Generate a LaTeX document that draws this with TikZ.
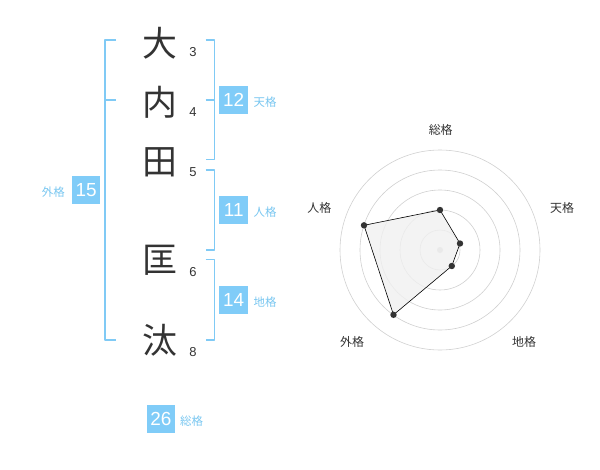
\documentclass[tikz,border=0pt]{standalone}
\usepackage{fontspec}
\setmainfont{Liberation Sans}
\newfontfamily\cjk{Noto Sans CJK JP}
\definecolor{skyline}{RGB}{128,202,245}
\definecolor{skybox}{RGB}{128,204,248}
\definecolor{skytext}{RGB}{120,198,240}
\definecolor{inkgray}{RGB}{51,51,51}
\definecolor{ringgray}{RGB}{208,208,208}
\definecolor{areagray}{RGB}{240,240,240}
\begin{document}
\begin{tikzpicture}[line join=bevel,
  kanji/.style={inner sep=0pt,text=inkgray,font=\cjk\fontsize{35}{35}\selectfont},
  strokenum/.style={inner sep=0pt,text=inkgray,font=\fontsize{13}{13}\selectfont},
  gradebox/.style={fill=skybox,text=white,minimum size=28.5bp,inner sep=0pt,font=\fontsize{19}{19}\selectfont},
  gradelabel/.style={inner sep=0pt,text=skytext,font=\cjk\fontsize{11.5}{11.5}\selectfont},
  axislabel/.style={inner sep=0pt,text=inkgray,font=\cjk\fontsize{12}{12}\selectfont},
  bracket/.style={skyline,line width=1.6bp},
]
\useasboundingbox (0bp,0bp) rectangle (600bp,-470bp);
%%
\node (kanji_0) at (160bp,-43bp) [kanji] {大};
  \node (kanji_1) at (160bp,-102bp) [kanji] {内};
  \node (kanji_2) at (160bp,-162bp) [kanji] {田};
  \node (kanji_3) at (160bp,-260bp) [kanji] {匡};
  \node (kanji_4) at (160bp,-340bp) [kanji] {汰};
%
\node (num_0) at (193bp,-52.5bp) [strokenum] {3};
  \node (num_1) at (193bp,-112.5bp) [strokenum] {4};
  \node (num_2) at (193bp,-172.5bp) [strokenum] {5};
  \node (num_3) at (193bp,-272.5bp) [strokenum] {6};
  \node (num_4) at (193bp,-352.5bp) [strokenum] {8};
%
\draw [bracket] (205.7bp,-40bp) -- (214.3bp,-40bp) -- (214.3bp,-159.3bp) -- (205.7bp,-159.3bp);
  \draw [bracket] (205.7bp,-100bp) -- (214.3bp,-100bp);
  \draw [bracket] (205.7bp,-170bp) -- (214.3bp,-170bp) -- (214.3bp,-250bp) -- (205.7bp,-250bp);
  \draw [bracket] (205.7bp,-259.3bp) -- (214.3bp,-259.3bp) -- (214.3bp,-340bp) -- (205.7bp,-340bp);
  \draw [bracket] (116bp,-40bp) -- (105bp,-40bp) -- (105bp,-340bp) -- (116bp,-340bp);
  \draw [bracket] (105bp,-100bp) -- (116bp,-100bp);
%
\node (box_ten) at (233.7bp,-100.2bp) [gradebox] {12};
  \node (label_ten) at (265bp,-102bp) [gradelabel] {天格};
  \node (box_jin) at (233.7bp,-210.2bp) [gradebox] {11};
  \node (label_jin) at (265bp,-212bp) [gradelabel] {人格};
  \node (box_chi) at (233.7bp,-300.2bp) [gradebox] {14};
  \node (label_chi) at (265bp,-302bp) [gradelabel] {地格};
  \node (box_gai) at (86.2bp,-190.2bp) [gradebox] {15};
  \node (label_gai) at (53.3bp,-192.5bp) [gradelabel] {外格};
  \node (box_sou) at (161bp,-419.2bp) [gradebox] {26};
  \node (label_sou) at (191.5bp,-421bp) [gradelabel] {総格};
%
\coordinate (ctr) at (440bp,-250bp);
  \foreach \r in {20,40,60,80,100}
    \draw [ringgray,line width=0.6bp] (ctr) circle (\r bp);
  \fill [ringgray] (ctr) circle (3bp);
%
\coordinate (pt_0) at (440bp,-210bp);
  \coordinate (pt_1) at (460bp,-243.5bp);
  \coordinate (pt_2) at (451.8bp,-266bp);
  \coordinate (pt_3) at (393.5bp,-314.8bp);
  \coordinate (pt_4) at (364bp,-225.3bp);
  \draw [black,fill=areagray,fill opacity=0.8,line width=0.6bp] (pt_0) -- (pt_1) -- (pt_2) -- (pt_3) -- (pt_4) -- cycle;
  \foreach \p in {pt_0,pt_1,pt_2,pt_3,pt_4}
    \fill [inkgray] (\p) circle (3.2bp);
%
\node (axis_0) at (440.7bp,-130bp) [axislabel] {総格};
  \node (axis_1) at (562bp,-208bp) [axislabel] {天格};
  \node (axis_2) at (524bp,-342bp) [axislabel] {地格};
  \node (axis_3) at (352bp,-342bp) [axislabel] {外格};
  \node (axis_4) at (319.3bp,-208bp) [axislabel] {人格};
%
\end{tikzpicture}
\end{document}
